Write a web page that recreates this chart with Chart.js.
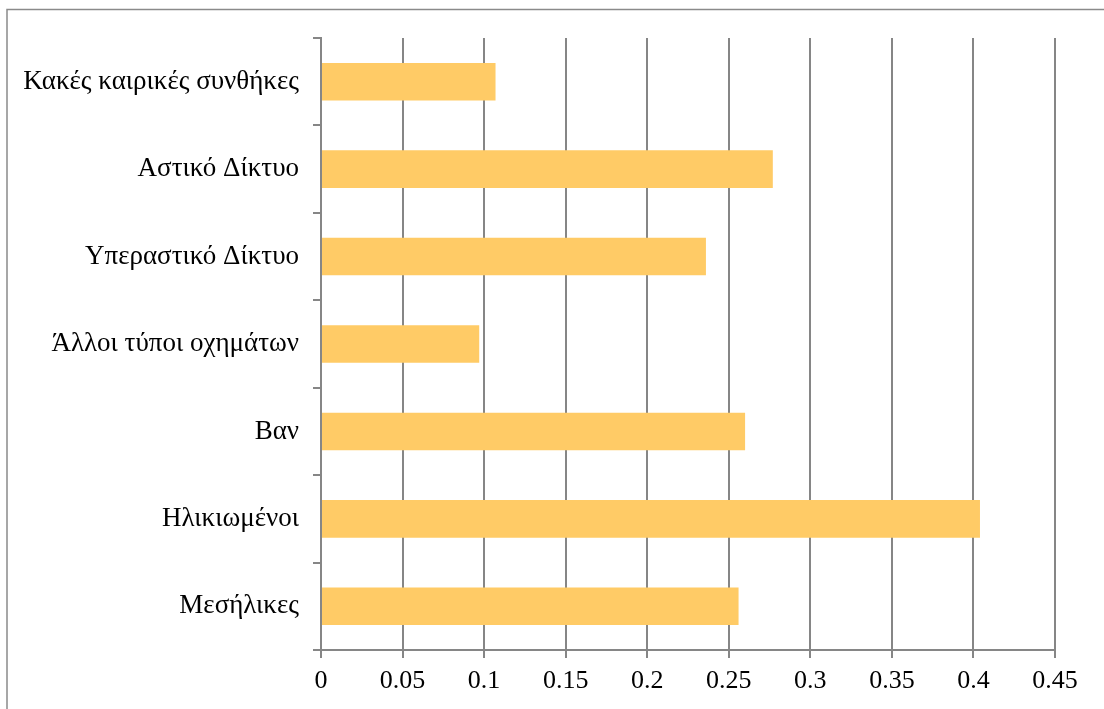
<!DOCTYPE html>
<html>
<head>
<meta charset="utf-8">
<script src="https://cdn.jsdelivr.net/npm/chart.js@4"></script>
<style>
    html, body { margin: 0; padding: 0; background: #fff; }
    #wrap { width: 1104px; height: 709px; position: relative; }
</style>
</head>
<body>
<div id="wrap"><canvas id="chart" width="1104" height="709"></canvas></div>
<script>
// Chart data
const categories = [
    'Κακές καιρικές συνθήκες',
    'Αστικό Δίκτυο',
    'Υπεραστικό Δίκτυο',
    'Άλλοι τύποι οχημάτων',
    'Βαν',
    'Ηλικιωμένοι',
    'Μεσήλικες'
];
const values = [0.107, 0.277, 0.236, 0.097, 0.260, 0.404, 0.256];
const xTicks = [0, 0.05, 0.1, 0.15, 0.2, 0.25, 0.3, 0.35, 0.4, 0.45];

const gridColor = '#868686';
const serif = '"Liberation Serif", "Times New Roman", serif';

// Outer frame of the chart area
const framePlugin = {
    id: 'frame',
    beforeDraw(chart) {
        const ctx = chart.ctx;
        ctx.save();
        ctx.fillStyle = '#fff';
        ctx.fillRect(0, 0, chart.width, chart.height);
        ctx.strokeStyle = '#8a8a8a';
        ctx.lineWidth = 1.5;
        ctx.strokeRect(7, 9.5, 1110, 720);
        ctx.restore();
    }
};

new Chart(document.getElementById('chart').getContext('2d'), {
    type: 'bar',
    data: {
        labels: categories,
        datasets: [{
            data: values,
            backgroundColor: '#FFCB66',
            borderWidth: 0,
            categoryPercentage: 0.43,
            barPercentage: 1
        }]
    },
    plugins: [framePlugin],
    options: {
        indexAxis: 'y',
        responsive: false,
        animation: false,
        layout: { padding: { top: 38, right: 49, left: 0, bottom: 0 } },
        plugins: {
            legend: { display: false },
            tooltip: { enabled: false }
        },
        scales: {
            x: {
                min: 0,
                max: 0.45,
                afterBuildTicks: axis => { axis.ticks = xTicks.map(v => ({ value: v })); },
                afterFit: axis => { axis.height = 59; },
                grid: {
                    color: gridColor,
                    lineWidth: 2,
                    tickLength: 8,
                    drawTicks: true
                },
                border: { display: true, color: gridColor, width: 2 },
                ticks: {
                    color: '#000',
                    font: { family: serif, size: 26 },
                    padding: 8,
                    maxRotation: 0,
                    callback: v => String(v)
                }
            },
            y: {
                afterFit: axis => { axis.width = 321; },
                grid: {
                    offset: true,
                    drawOnChartArea: false,
                    color: gridColor,
                    lineWidth: 2,
                    tickLength: 8
                },
                border: { display: true, color: gridColor, width: 2 },
                ticks: {
                    color: '#000',
                    font: { family: serif, size: 27 },
                    padding: 14
                }
            }
        }
    }
});
</script>
</body>
</html>
